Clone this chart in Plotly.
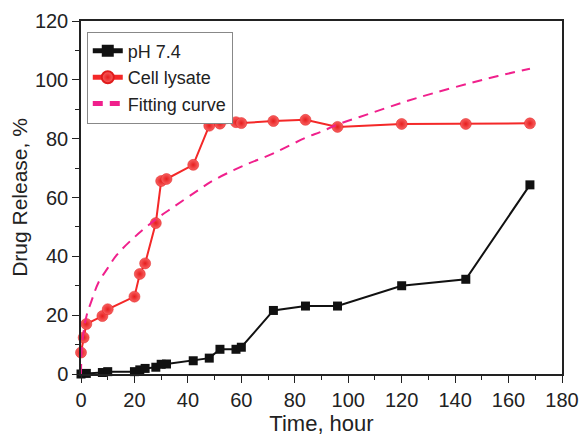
import plotly.graph_objects as go

# pH 7.4 release data
ph_time = [0, 2, 8, 10, 20, 22, 24, 28, 30, 32, 42, 48, 52, 58, 60, 72, 84, 96, 120, 144, 168]
ph_release = [0, 0.2, 0.5, 0.8, 0.8, 1.4, 1.9, 2.3, 3.3, 3.4, 4.5, 5.4, 8.4, 8.4, 9.1, 21.6, 23.1, 23.1, 30.0, 32.2, 64.3]

# Cell lysate release data
cl_time = [0, 1, 2, 8, 10, 20, 22, 24, 28, 30, 32, 42, 48, 52, 58, 60, 72, 84, 96, 120, 144, 168]
cl_release = [7.3, 12.4, 17.0, 19.7, 22.0, 26.3, 34.0, 37.6, 51.3, 65.6, 66.3, 71.1, 84.4, 85.1, 85.6, 85.3, 86.0, 86.4, 84.0, 85.0, 85.0, 85.2]

# Fitting curve
fit_time = [0, 0.3, 1, 2, 4, 6.5, 10, 13.4, 20, 28.3, 35, 43.9, 49.5, 60, 72, 84.5, 89.5, 96, 108, 120.7, 132, 145.7, 156, 168]
fit_release = [0, 9.0, 14.5, 19.5, 25.0, 31.0, 36.0, 40.5, 46.5, 52.8, 57.0, 62.5, 65.8, 70.5, 75.0, 80.5, 82.2, 84.8, 88.5, 92.4, 95.5, 98.9, 101.3, 103.8]

FONT = "Liberation Sans, Arial, sans-serif"
INK = "#222222"

fig = go.Figure()

fig.add_trace(go.Scatter(
    x=ph_time, y=ph_release, name="pH 7.4", mode="lines+markers",
    line=dict(color="#111111", width=2),
    marker=dict(symbol="square", size=9, color="#111111"),
    cliponaxis=False,
))

fig.add_trace(go.Scatter(
    x=cl_time, y=cl_release, name="Cell lysate", mode="lines+markers",
    line=dict(color="#f42828", width=2),
    marker=dict(symbol="circle", size=11, color="#f86060",
                gradient=dict(type="radial", color="#e61e1e"),
                line=dict(color="#e01c1c", width=0.5)),
    cliponaxis=False,
))

fig.add_trace(go.Scatter(
    x=fit_time, y=fit_release, name="Fitting curve", mode="lines",
    line=dict(color="#f0208c", width=2, dash="10px,7px", shape="spline"),
))

axis_common = dict(
    showline=True, linecolor=INK, linewidth=1.5, mirror=True,
    ticks="outside", ticklen=7, tickwidth=1.3, tickcolor=INK,
    showgrid=False, zeroline=False, automargin=False,
    tickfont=dict(family=FONT, size=20, color=INK),
    minor=dict(ticks="outside", ticklen=4, tickwidth=1.2, tickcolor=INK),
)

fig.update_xaxes(
    range=[0, 180], tick0=0, dtick=20, minor_dtick=10,
    title=dict(text="Time, hour", standoff=6,
               font=dict(family=FONT, size=22, color=INK)),
    **axis_common,
)
fig.update_yaxes(
    range=[0, 120], tick0=0, dtick=20, minor_dtick=10,
    title=dict(text="Drug Release, %", standoff=2,
               font=dict(family=FONT, size=21, color=INK)),
    **axis_common,
)

fig.update_layout(
    width=584, height=439,
    margin=dict(l=81, r=22, t=21, b=65),
    plot_bgcolor="white", paper_bgcolor="white",
    showlegend=True,
    legend=dict(
        x=0.012, y=0.97, xanchor="left", yanchor="top",
        bgcolor="white", bordercolor="#888888", borderwidth=1,
        font=dict(family=FONT, size=18, color=INK),
        tracegroupgap=0, itemsizing="constant",
    ),
)

fig.write_html(
    "out.html",
    config={"displayModeBar": False},
    post_script="document.body.style.margin='0';document.body.style.overflow='hidden';",
)
